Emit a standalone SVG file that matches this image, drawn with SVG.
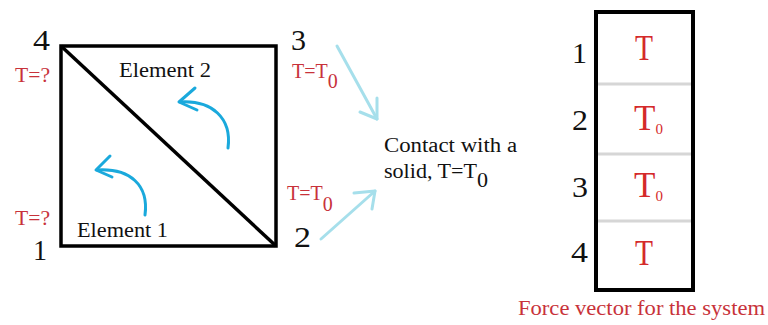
<svg xmlns="http://www.w3.org/2000/svg" width="768" height="325" viewBox="0 0 768 325">
<style>
.num{font-family:"Liberation Serif",serif;font-size:30px;fill:#111}
.lbl{font-family:"Liberation Serif",serif;font-size:20px;fill:#111}
.red{font-family:"Liberation Serif",serif;font-size:20px;fill:#c8323a}
.redbig{font-family:"Liberation Serif",serif;font-size:35px;fill:#d42a2a}
.edge{fill:none;stroke:#000;stroke-width:3.5}
.cy{fill:none;stroke:#1aa9dc;stroke-width:3;stroke-linecap:round;stroke-linejoin:round}
.lc{fill:none;stroke:#a6dfeb;stroke-width:3;stroke-linecap:round;stroke-linejoin:round}
.div{stroke:#d6d6d6;stroke-width:3}
</style>
<rect width="768" height="325" fill="#fff"/>
<g id="mesh">
<rect class="edge" x="61" y="46" width="215" height="200"/>
<line class="edge" x1="61" y1="46" x2="276" y2="246"/>
</g>
<g id="node1"><text class="num" x="33" y="260" textLength="14" lengthAdjust="spacingAndGlyphs">1</text><text class="red" x="15" y="225" textLength="35" lengthAdjust="spacingAndGlyphs">T=?</text></g>
<g id="node2"><text class="num" x="294" y="247" textLength="17" lengthAdjust="spacingAndGlyphs">2</text><text class="red" x="287" y="200">T=T<tspan dy="11">0</tspan></text></g>
<g id="node3"><text class="num" x="291" y="50" textLength="15" lengthAdjust="spacingAndGlyphs">3</text><text class="red" x="292" y="78">T=T<tspan dy="10">0</tspan></text></g>
<g id="node4"><text class="num" x="33" y="50" textLength="17" lengthAdjust="spacingAndGlyphs">4</text><text class="red" x="15" y="82" textLength="35" lengthAdjust="spacingAndGlyphs">T=?</text></g>
<g id="element1"><text class="lbl" x="77" y="237" textLength="91" lengthAdjust="spacingAndGlyphs">Element 1</text></g>
<g id="element2"><text class="lbl" x="119" y="77" textLength="92" lengthAdjust="spacingAndGlyphs">Element 2</text></g>
<g id="contact"><text class="lbl" x="384" y="152" font-size="21" textLength="133" lengthAdjust="spacingAndGlyphs">Contact with a</text><text class="lbl" x="384" y="178" font-size="21" textLength="104" lengthAdjust="spacingAndGlyphs">solid, T=T<tspan dy="9">0</tspan></text></g>
<g id="connectors">
<path class="cy" d="M228,148 C232,118 212,100 180,102"/>
<path class="cy" d="M195,88 L179,102 L197,110"/>
<path class="cy" d="M145,215 C149,185 130,168 97,170"/>
<path class="cy" d="M110,156 L96,170 L112,177"/>
<path class="lc" d="M337,46 L377,119"/>
<path class="lc" d="M360,112 L377,119 L377,98"/>
<path class="lc" d="M321,239 L375,191"/>
<path class="lc" d="M354,193 L375,191 L372,209"/>
</g>
<g id="forcevector">
<line class="div" x1="597" y1="84" x2="692" y2="84"/>
<line class="div" x1="597" y1="154" x2="692" y2="154"/>
<line class="div" x1="597" y1="221" x2="692" y2="221"/>
<rect x="596" y="12" width="97" height="278" fill="none" stroke="#000" stroke-width="4"/>
<text class="num" x="572" y="63" font-size="32" textLength="15" lengthAdjust="spacingAndGlyphs">1</text>
<text class="num" x="572" y="130" font-size="31" textLength="16" lengthAdjust="spacingAndGlyphs">2</text>
<text class="num" x="572" y="197" font-size="31" textLength="16" lengthAdjust="spacingAndGlyphs">3</text>
<text class="num" x="571" y="262" font-size="31" textLength="17" lengthAdjust="spacingAndGlyphs">4</text>
<text class="redbig" x="635" y="60" textLength="18" lengthAdjust="spacingAndGlyphs">T</text>
<text class="redbig" x="634" y="130">T<tspan font-size="15" dy="4">0</tspan></text>
<text class="redbig" x="634" y="197">T<tspan font-size="15" dy="4">0</tspan></text>
<text class="redbig" x="635" y="265" textLength="18" lengthAdjust="spacingAndGlyphs">T</text>
<text x="518" y="315" font-family="Liberation Serif,serif" font-size="21" fill="#c8323a" textLength="247" lengthAdjust="spacingAndGlyphs">Force vector for the system</text>
</g>
</svg>
